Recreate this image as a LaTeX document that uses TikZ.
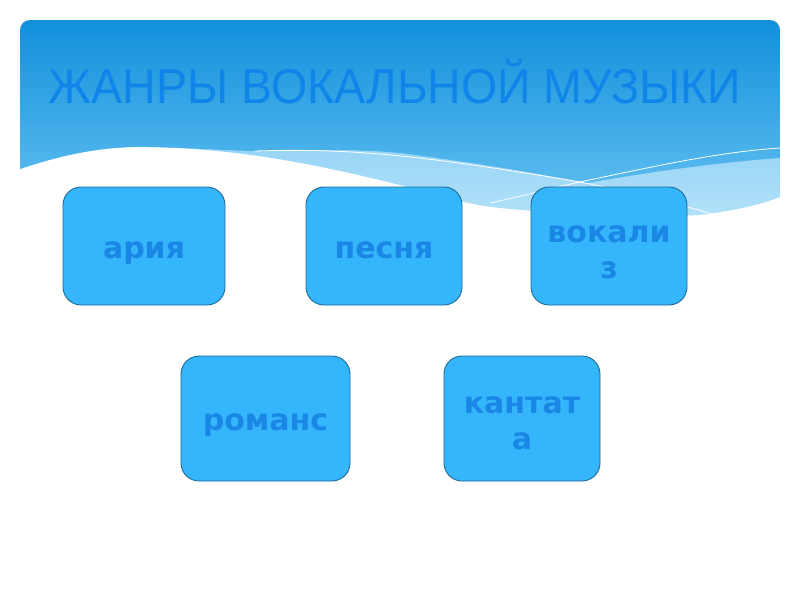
\documentclass[tikz,border=0pt]{standalone}
\usepackage{fontspec}
\setmainfont{Liberation Sans}
\newfontfamily\boxfont{DejaVu Sans}
\definecolor{hdtop}{HTML}{1290DC}
\definecolor{hdbot}{HTML}{58BAEE}
\definecolor{bandtop}{HTML}{86CCF4}
\definecolor{bandbot}{HTML}{B2E1F9}
\definecolor{titlecol}{HTML}{0F85EA}
\definecolor{boxfill}{HTML}{35B5FB}
\definecolor{boxline}{HTML}{1E6A96}
\definecolor{boxtext}{HTML}{1A86E6}
\tikzset{
  genre/.style={draw=boxline, line width=0.9pt, fill=boxfill, rounded corners=18pt,
    text=boxtext, font=\boxfont\bfseries\fontsize{30}{36}\selectfont, align=center,
    inner sep=0pt, text height=30pt, text depth=6pt},
  genretext/.style={text=boxtext, font=\boxfont\bfseries\fontsize{30}{36}\selectfont,
    align=center, inner sep=0pt},
  wline/.style={draw=white, line width=0.8pt}
}
\begin{document}
\begin{tikzpicture}[x=1pt,y=-1pt]
\useasboundingbox (0,0) rectangle (800,600);
% light band (outer header shape)
\shade[top color=bandtop, bottom color=bandbot]
  (20,169) .. controls (70,152) and (110,146) .. (150,147)
  .. controls (230,149) and (300,160) .. (400,185)
  .. controls (440,196) and (470,205) .. (500,208)
  .. controls (580,216) and (660,217) .. (700,215)
  .. controls (740,210) and (765,203) .. (780,197)
  -- (780,100) -- (20,100) -- cycle;
% dark header gradient
\shade[top color=hdtop, bottom color=hdbot]
  (20,169) .. controls (70,152) and (110,146) .. (150,147)
  .. controls (200,148) and (230,151) .. (260,151)
  .. controls (330,149) and (370,150) .. (400,153)
  .. controls (470,162) and (530,172) .. (587,183)
  .. controls (650,172) and (720,162) .. (780,158)
  [rounded corners=10pt] -- (780,20) -- (20,20) [sharp corners] -- cycle;
% white lines
\draw[wline] (255,151) .. controls (350,148) and (420,155) .. (580,182)
  .. controls (640,194) and (690,207) .. (715,215);
\draw[wline] (490,203) .. controls (540,192) and (560,186) .. (580,182)
  .. controls (660,165) and (720,152) .. (780,148);
% title
\node[text=titlecol, font=\fontsize{49}{55}\selectfont, inner sep=0pt, anchor=base] (title) at (395,103)
  {\scalebox{0.95}[1]{ЖАНРЫ ВОКАЛЬНОЙ МУЗЫКИ}};
% genre boxes
\node[genre, minimum width=162pt, minimum height=118pt] (aria) at (144,246) {ария};
\node[genre, minimum width=156pt, minimum height=118pt] (pesnya) at (384,246) {песня};
\node[genre, minimum width=156pt, minimum height=118pt] (vokaliz) at (609,246) {};
\node[genretext] (vokaliztext) at (609,252) {вокали\\з};
\node[genre, minimum width=169pt, minimum height=125pt] (romans) at (265.5,418.5) {романс};
\node[genre, minimum width=156pt, minimum height=125pt] (kantata) at (522,418.5) {};
\node[genretext] (kantatatext) at (522,423) {кантат\\а};
\end{tikzpicture}
\end{document}
